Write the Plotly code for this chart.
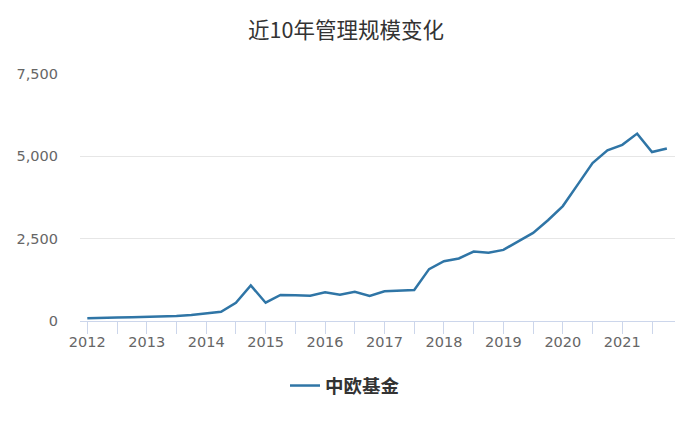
#!/usr/bin/env python3
"""
近10年管理规模变化 — 中欧基金 quarterly AUM line chart.
"""

import plotly.graph_objects as go

# quarterly points, 2012Q1 .. 2021Q4 (x as fractional year)
quarters = [2012 + 0.25 * i for i in range(40)]
aum = [
    80, 100, 110, 115, 120, 130, 150, 180,
    240, 280, 555, 1080, 555, 790, 780, 770,
    870, 800, 890, 760, 900, 920, 940, 1575,
    1815, 1900, 2110, 2070, 2160, 2420, 2675, 3060,
    3490, 4140, 4795, 5180, 5350, 5690, 5130, 5240,
]
series_name = "中欧基金"
years = list(range(2012, 2022))
y_ticks = [0, 2500, 5000, 7500]

tick_vals = [y + h for y in years for h in (0.0, 0.5)]
tick_text = [str(y) if h == 0.0 else "" for y in years for h in (0.0, 0.5)]

# page body adds an 8px margin, so the figure is sized a bit smaller
W, H = 692, 415

fig = go.Figure()
fig.add_trace(
    go.Scatter(
        x=quarters,
        y=aum,
        mode="lines",
        name=series_name,
        line=dict(color="#2f75a6", width=2.5),
    )
)

fig.update_layout(
    width=W,
    height=H,
    paper_bgcolor="white",
    plot_bgcolor="white",
    margin=dict(l=72, r=25, t=66, b=102),
    title=dict(
        text="近10年管理规模变化",
        x=338 / W,
        xanchor="center",
        y=1 - 22 / H,
        yanchor="middle",
        font=dict(family="Noto Sans CJK SC", size=21.5, color="#333333"),
    ),
    showlegend=True,
    legend=dict(
        orientation="h",
        xref="container",
        yref="container",
        x=337 / W,
        xanchor="center",
        y=1 - 378 / H,
        yanchor="middle",
        font=dict(family="Noto Sans CJK SC", size=18.5, color="#333333", weight="bold"),
        itemwidth=30,
    ),
)

fig.update_xaxes(
    range=[2011.877, 2021.887],
    automargin=False,
    tickvals=tick_vals,
    ticktext=tick_text,
    ticks="outside",
    ticklen=12,
    tickcolor="#ccd6eb",
    tickwidth=1,
    showline=True,
    linecolor="#ccd6eb",
    linewidth=1,
    showgrid=False,
    zeroline=False,
    ticklabelstandoff=-4,
    tickfont=dict(family="DejaVu Sans", size=14.5, color="#666666"),
)
fig.update_yaxes(
    range=[0, 7500],
    automargin=False,
    tickvals=y_ticks,
    tickformat=",",
    showgrid=True,
    gridcolor="#e6e6e6",
    zeroline=False,
    showline=False,
    ticks="",
    ticklabelstandoff=21,
    tickfont=dict(family="DejaVu Sans", size=14.5, color="#666666"),
)

fig.write_html("out.html")
